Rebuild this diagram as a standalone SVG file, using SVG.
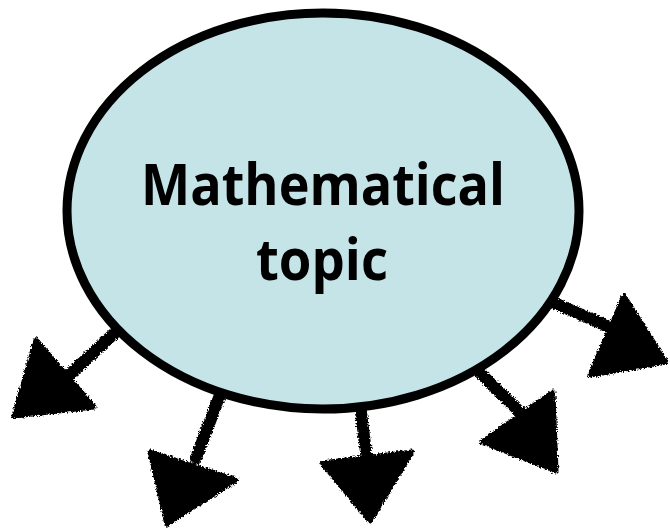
<svg xmlns="http://www.w3.org/2000/svg" width="670" height="530" viewBox="0 0 670 530">
  <defs>
    <filter id="rough" x="-20%" y="-20%" width="140%" height="140%">
      <feTurbulence type="fractalNoise" baseFrequency="0.6" numOctaves="2" seed="3" result="n"/>
      <feDisplacementMap in="SourceGraphic" in2="n" scale="5" xChannelSelector="R" yChannelSelector="G"/>
    </filter>
    <style>
      .shaft { stroke: #000; stroke-width: 12; fill: none; stroke-linecap: round; }
      .head { fill: #000; stroke: #000; stroke-width: 5; stroke-linejoin: round; }
      .node { fill: #c4e4e8; stroke: #000; stroke-width: 9; }
      .label { font-family: "Open Sans", "Liberation Sans", sans-serif; font-weight: bold; font-size: 58px; fill: #000; text-anchor: middle; }
    </style>
  </defs>
  <rect width="670" height="530" fill="#fff"/>
  <g id="connectors" filter="url(#rough)">
    <g id="arrow1">
      <line class="shaft" x1="120" y1="328" x2="68" y2="376"/>
      <polygon class="head" points="36,340 14,416 94,407"/>
    </g>
    <g id="arrow2">
      <line class="shaft" x1="222" y1="390" x2="196" y2="458"/>
      <polygon class="head" points="150,452 236,480 167,524"/>
    </g>
    <g id="arrow3">
      <line class="shaft" x1="360" y1="405" x2="367" y2="460"/>
      <polygon class="head" points="322,463 412,452 370,521"/>
    </g>
    <g id="arrow4">
      <line class="shaft" x1="475" y1="368" x2="522" y2="414"/>
      <polygon class="head" points="553,392 482,442 556,471"/>
    </g>
    <g id="arrow5">
      <line class="shaft" x1="552" y1="302" x2="612" y2="328"/>
      <polygon class="head" points="624,296 590,375 666,362"/>
    </g>
  </g>
  <g id="node-topic">
    <ellipse class="node" cx="323" cy="211" rx="256" ry="198"/>
    <text class="label" x="323" y="205" textLength="364" lengthAdjust="spacingAndGlyphs">Mathematical</text>
    <text class="label" x="322" y="280" textLength="132" lengthAdjust="spacingAndGlyphs">topic</text>
  </g>
</svg>
